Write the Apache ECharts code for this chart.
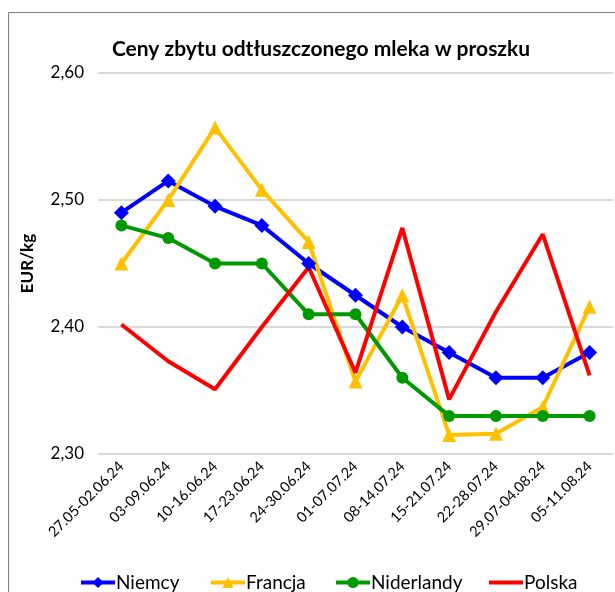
<!DOCTYPE html>
<html>
<head>
<meta charset="utf-8">
<script src="https://cdn.jsdelivr.net/npm/echarts@6/dist/echarts.min.js"></script>
<style>
  html, body { margin: 0; padding: 0; background: #fff; }
  #chart { width: 615px; height: 592px; }
</style>
</head>
<body>
<div id="chart"></div>
<script>
const weeks = ['27.05-02.06.24', '03-09.06.24', '10-16.06.24', '17-23.06.24', '24-30.06.24',
  '01-07.07.24', '08-14.07.24', '15-21.07.24', '22-28.07.24', '29.07-04.08.24', '05-11.08.24']

const niemcy = [2.49, 2.515, 2.495, 2.48, 2.45, 2.425, 2.40, 2.38, 2.36, 2.36, 2.38]
const francja = [2.45, 2.50, 2.557, 2.508, 2.467, 2.357, 2.425, 2.315, 2.316, 2.337, 2.416]
const niderlandy = [2.48, 2.47, 2.45, 2.45, 2.41, 2.41, 2.36, 2.33, 2.33, 2.33, 2.33]
const polska = [2.402, 2.373, 2.351, 2.40, 2.447, 2.364, 2.478, 2.343, 2.412, 2.473, 2.362]

const names = ['Niemcy', 'Francja', 'Niderlandy', 'Polska']
const legendLeft = [74, 204, 329, 484]

const font = 'Lato, "Open Sans", sans-serif'

const mkLine = (name, data, color, symbol, size) => ({
  name: name,
  type: 'line',
  data: data,
  symbol: symbol,
  symbolSize: size,
  showSymbol: symbol !== 'none',
  lineStyle: {color: color, width: 4},
  itemStyle: {color: color},
  z: 3
})

const chart = echarts.init(document.getElementById('chart'))

// Polska has no markers, so its legend key is a plain bar
const legends = names.map((n, i) => ({
  data: [n === 'Polska' ? {name: n, icon: 'rect'} : n],
  bottom: -5,
  left: legendLeft[i],
  itemWidth: 34,
  itemHeight: n === 'Polska' ? 4 : 14,
  itemGap: 0,
  lineStyle: {width: 4},
  textStyle: {fontFamily: font, fontSize: 19, color: '#000', padding: [0, 0, 0, -4]}
}))

chart.setOption({
  animation: false,
  title: {
    text: 'Ceny zbytu odtłuszczonego mleka w proszku',
    left: 316,
    textAlign: 'center',
    top: 34,
    textStyle: {fontFamily: font, fontSize: 21, fontWeight: 'bold', color: '#000'}
  },
  graphic: [{
    type: 'rect',
    shape: {x: 8.5, y: 12.5, width: 700, height: 700},
    style: {fill: 'none', stroke: '#7f7f7f', lineWidth: 1},
    silent: true
  }],
  legend: legends,
  grid: {left: 98, right: 2, top: 73, bottom: 138},
  xAxis: {
    type: 'category',
    data: weeks,
    boundaryGap: true,
    axisLine: {show: false},
    axisTick: {show: false},
    axisLabel: {
      rotate: 45,
      interval: 0,
      margin: 10,
      fontFamily: font,
      fontSize: 14.5,
      color: '#000'
    }
  },
  yAxis: {
    type: 'value',
    min: 2.3,
    max: 2.6,
    interval: 0.1,
    name: 'EUR/kg',
    nameLocation: 'middle',
    nameGap: 62,
    nameTextStyle: {fontFamily: font, fontSize: 17, fontWeight: 'bold', color: '#000'},
    axisLine: {show: false},
    axisTick: {show: false},
    splitLine: {lineStyle: {color: '#d9d9d9', width: 2}},
    axisLabel: {
      fontFamily: font,
      fontSize: 17,
      color: '#000',
      margin: 14,
      formatter: v => v.toFixed(2).replace('.', ',')
    }
  },
  series: [
    mkLine('Niemcy', niemcy, '#0000ff', 'diamond', 15),
    mkLine('Francja', francja, '#ffc000', 'triangle', 14),
    mkLine('Niderlandy', niderlandy, '#009900', 'circle', 12),
    mkLine('Polska', polska, '#ff0000', 'none', 0)
  ]
})
</script>
</body>
</html>
